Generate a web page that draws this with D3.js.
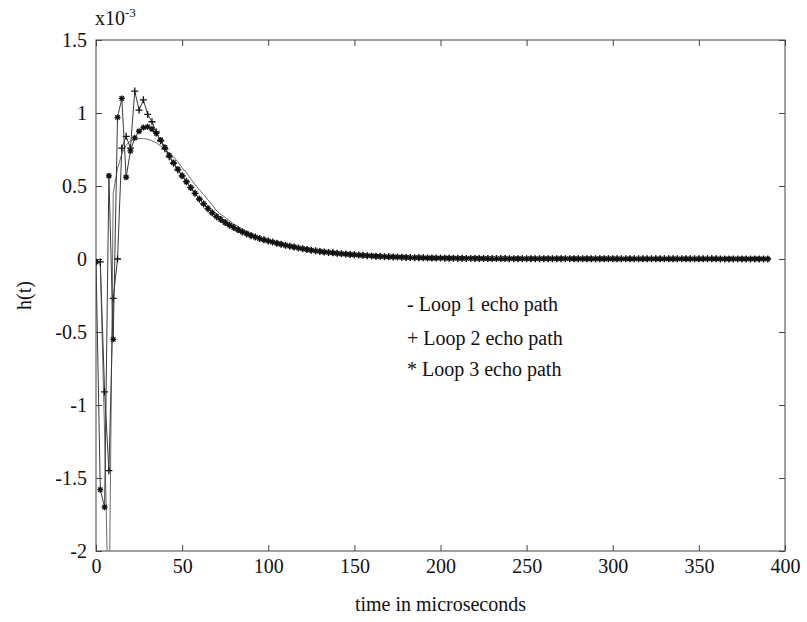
<!DOCTYPE html>
<html><head><meta charset="utf-8">
<script src="https://cdn.jsdelivr.net/npm/d3@7"></script>
<style>
body{margin:0;background:#fff}
svg text{font-family:"Liberation Serif","Times New Roman",serif;fill:#111}
</style>
</head><body><svg id="c" width="807" height="622"></svg>
<script>
// sample times in microseconds
const timeUs = [
0,2.5,5,7.5,10,12.5,15,17.5,20,22.5,25,27.5,30,32.5,35,37.5,40,42.5,45,47.5,
50,52.5,55,57.5,60,62.5,65,67.5,70,72.5,75,77.5,80,82.5,85,87.5,90,92.5,95,97.5,
100,102.5,105,107.5,110,112.5,115,117.5,120,122.5,125,127.5,130,132.5,135,137.5,140,142.5,145,147.5,
150,152.5,155,157.5,160,162.5,165,167.5,170,172.5,175,177.5,180,182.5,185,187.5,190,192.5,195,197.5,
200,202.5,205,207.5,210,212.5,215,217.5,220,222.5,225,227.5,230,232.5,235,237.5,240,242.5,245,247.5,
250,252.5,255,257.5,260,262.5,265,267.5,270,272.5,275,277.5,280,282.5,285,287.5,290,292.5,295,297.5,
300,302.5,305,307.5,310,312.5,315,317.5,320,322.5,325,327.5,330,332.5,335,337.5,340,342.5,345,347.5,
350,352.5,355,357.5,360,362.5,365,367.5,370,372.5,375,377.5,380,382.5,385,387.5,390];

// h(t) values, units of 1e-3
const loop1 = [
0,-0.03,-1.2,-2.6,0.45,0.62,0.72,0.78,0.81,0.82,0.825,0.825,0.82,0.81,0.795,0.775,0.75,0.725,0.70,0.665,
0.625,0.59,0.55,0.51,0.475,0.44,0.405,0.37,0.33,0.305,0.285,0.262,0.24,0.222,0.205,0.188,0.173,0.16,0.147,0.136,
0.126,0.117,0.108,0.101,0.094,0.088,0.082,0.076,0.07,0.065,0.06,0.056,0.052,0.048,0.045,0.042,0.039,0.036,0.034,0.031,
0.029,0.027,0.025,0.023,0.021,0.019,0.018,0.016,0.015,0.014,0.013,0.012,0.011,0.010,0.009,0.009,0.008,0.007,0.007,0.006,
0.006,0.0055,0.005,0.005,0.0045,0.0045,0.004,0.004,0.004,0.0035,0.0035,0.003,0.003,0.003,0.003,0.003,0.0025,0.0025,0.0025,0.0025,
0.0025,0.002,0.002,0.002,0.002,0.002,0.002,0.002,0.002,0.002,0.002,0.0015,0.0015,0.0015,0.0015,0.0015,0.0015,0.0015,0.0015,0.0015,
0.0015,0.001,0.001,0.001,0.001,0.001,0.001,0.001,0.001,0.001,0.001,0.001,0.001,0.001,0.001,0.001,0.001,0.001,0.001,0.001,
0.001,0.001,0.001,0.001,0.001,0.0005,0.0005,0.0005,0.0005,0.0005,0.0005,0.0005,0.0005,0.0005,0.0005,0.0005,0.0005];

const loop2 = [
-0.02,-0.02,-0.91,-1.45,-0.27,0.0,0.76,0.84,0.76,1.15,1.02,1.09,0.99,0.94,0.87,0.81,0.755,0.70,0.655,0.61,
0.57,0.53,0.49,0.45,0.41,0.377,0.345,0.316,0.29,0.27,0.25,0.232,0.215,0.2,0.185,0.172,0.16,0.15,0.14,0.132,
0.124,0.116,0.108,0.101,0.094,0.088,0.082,0.076,0.07,0.065,0.06,0.056,0.052,0.048,0.045,0.042,0.039,0.036,0.034,0.031,
0.029,0.027,0.025,0.023,0.021,0.019,0.018,0.016,0.015,0.014,0.013,0.012,0.011,0.010,0.009,0.009,0.008,0.007,0.007,0.006,
0.006,0.0055,0.005,0.005,0.0045,0.0045,0.004,0.004,0.004,0.0035,0.0035,0.003,0.003,0.003,0.003,0.003,0.0025,0.0025,0.0025,0.0025,
0.0025,0.002,0.002,0.002,0.002,0.002,0.002,0.002,0.002,0.002,0.002,0.0015,0.0015,0.0015,0.0015,0.0015,0.0015,0.0015,0.0015,0.0015,
0.0015,0.001,0.001,0.001,0.001,0.001,0.001,0.001,0.001,0.001,0.001,0.001,0.001,0.001,0.001,0.001,0.001,0.001,0.001,0.001,
0.001,0.001,0.001,0.001,0.001,0.0005,0.0005,0.0005,0.0005,0.0005,0.0005,0.0005,0.0005,0.0005,0.0005,0.0005,0.0005];

const loop3 = [
-0.02,-1.58,-1.7,0.57,-0.55,0.97,1.1,0.56,0.74,0.83,0.875,0.9,0.905,0.89,0.86,0.815,0.765,0.71,0.66,0.615,
0.57,0.528,0.488,0.45,0.412,0.378,0.346,0.317,0.291,0.27,0.25,0.232,0.215,0.2,0.186,0.173,0.161,0.15,0.14,0.131,
0.124,0.116,0.108,0.101,0.094,0.088,0.082,0.076,0.07,0.065,0.06,0.056,0.052,0.048,0.045,0.042,0.039,0.036,0.034,0.031,
0.029,0.027,0.025,0.023,0.021,0.019,0.018,0.016,0.015,0.014,0.013,0.012,0.011,0.010,0.009,0.009,0.008,0.007,0.007,0.006,
0.006,0.0055,0.005,0.005,0.0045,0.0045,0.004,0.004,0.004,0.0035,0.0035,0.003,0.003,0.003,0.003,0.003,0.0025,0.0025,0.0025,0.0025,
0.0025,0.002,0.002,0.002,0.002,0.002,0.002,0.002,0.002,0.002,0.002,0.0015,0.0015,0.0015,0.0015,0.0015,0.0015,0.0015,0.0015,0.0015,
0.0015,0.001,0.001,0.001,0.001,0.001,0.001,0.001,0.001,0.001,0.001,0.001,0.001,0.001,0.001,0.001,0.001,0.001,0.001,0.001,
0.001,0.001,0.001,0.001,0.001,0.0005,0.0005,0.0005,0.0005,0.0005,0.0005,0.0005,0.0005,0.0005,0.0005,0.0005,0.0005];

const xTicks = [0,50,100,150,200,250,300,350,400];
const yTicks = [-2,-1.5,-1,-0.5,0,0.5,1,1.5];
const legendLabels = ["- Loop 1 echo path","+ Loop 2 echo path","* Loop 3 echo path"];

const svg = d3.select("#c");
const L = 96, R = 785, T = 40, B = 551;
const x = d3.scaleLinear().domain([0,400]).range([L,R]);
const y = d3.scaleLinear().domain([-2,1.5]).range([B,T]);

svg.append("defs").append("clipPath").attr("id","clip")
  .append("rect").attr("x",L).attr("y",T).attr("width",R-L).attr("height",B-T);

function styleAxis(g, labels){
  g.select(".domain").remove();
  g.selectAll(".tick line").attr("stroke","#444").attr("stroke-width",1);
  g.selectAll("text").style("font-size","20px").attr("fill","#111");
  if(!labels) g.selectAll("text").remove();
}
svg.append("g").attr("transform",`translate(0,${B})`)
  .call(d3.axisBottom(x).tickValues(xTicks).tickSize(-6).tickPadding(8).tickFormat(d=>String(d)))
  .call(g=>styleAxis(g,true));
svg.append("g").attr("transform",`translate(0,${T})`)
  .call(d3.axisTop(x).tickValues(xTicks).tickSize(-6))
  .call(g=>styleAxis(g,false));
svg.append("g").attr("transform",`translate(${L},0)`)
  .call(d3.axisLeft(y).tickValues(yTicks).tickSize(-6).tickPadding(9).tickFormat(d=>String(d)))
  .call(g=>styleAxis(g,true));
svg.append("g").attr("transform",`translate(${R},0)`)
  .call(d3.axisRight(y).tickValues(yTicks).tickSize(-6))
  .call(g=>styleAxis(g,false));

svg.append("rect").attr("x",L).attr("y",T).attr("width",R-L).attr("height",B-T)
  .attr("fill","none").attr("stroke","#444").attr("stroke-width",1);

const plot = svg.append("g").attr("clip-path","url(#clip)");
const line = d3.line().x(d=>x(d[0])).y(d=>y(d[1]));
const series = [
  {vals: loop1, stroke:"#6a6a6a", marker:null},
  {vals: loop2, stroke:"#3a3a3a", marker:"M-3.5,0H3.5M0,-3.5V3.5"},
  {vals: loop3, stroke:"#3a3a3a", marker:"M-3,0H3M0,-3V3M-2.2,-2.2L2.2,2.2M-2.2,2.2L2.2,-2.2"}
];
series.forEach(s=>{
  const pts = timeUs.map((t,i)=>[t,s.vals[i]]);
  plot.append("path").datum(pts).attr("d",line)
    .attr("fill","none").attr("stroke",s.stroke).attr("stroke-width",1);
  if(s.marker){
    plot.append("g").selectAll("path").data(pts).join("path")
      .attr("transform",d=>`translate(${x(d[0])},${y(d[1])})`)
      .attr("d",s.marker).attr("fill","none").attr("stroke","#111").attr("stroke-width",1.3);
  }
});

// legend text
const lg = svg.append("g");
legendLabels.forEach((txt,i)=>{
  lg.append("text").attr("x",407).attr("y",[311,345,376][i])
    .style("font-size","20px").text(txt);
});

// exponent label
const ex = svg.append("text").attr("x",95).attr("y",25).style("font-size","20px");
ex.append("tspan").text("x10");
ex.append("tspan").attr("dy",-8).style("font-size","13px").text("-3");

// axis titles
svg.append("text").attr("x",(L+R)/2).attr("y",611).attr("text-anchor","middle")
  .style("font-size","20px").text("time in microseconds");
svg.append("text").attr("transform",`translate(31,${(T+B)/2}) rotate(-90)`)
  .attr("text-anchor","middle").style("font-size","20px").text("h(t)");
</script>
</body></html>
